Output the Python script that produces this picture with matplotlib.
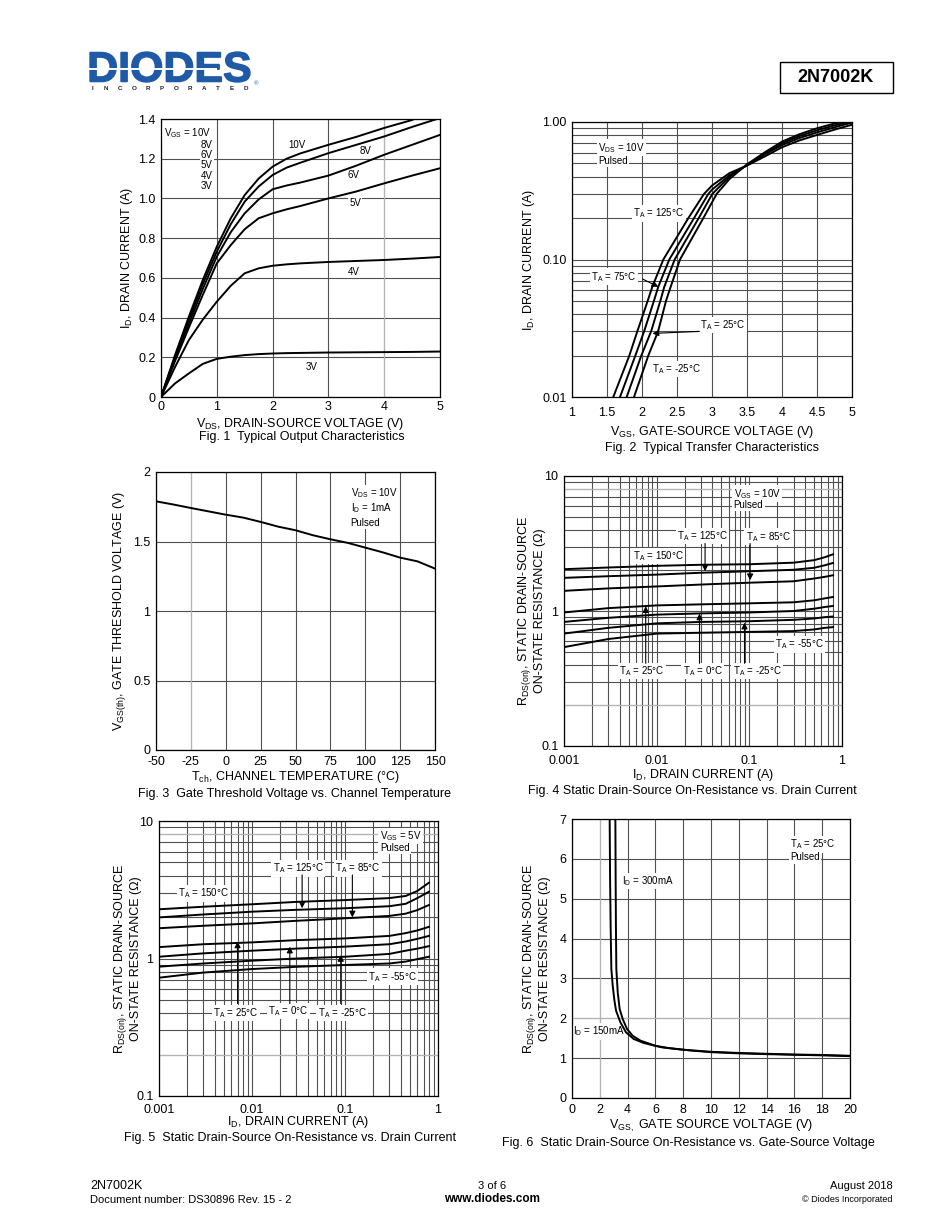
import numpy as np
import matplotlib
matplotlib.use("Agg")
import matplotlib.pyplot as plt
from matplotlib.ticker import LogLocator, NullFormatter, FixedLocator, FixedFormatter
from matplotlib.patches import Rectangle, PathPatch
from matplotlib.textpath import TextPath
from matplotlib.font_manager import FontProperties
from matplotlib.transforms import Affine2D

plt.rcParams['font.family'] = ['Liberation Sans', 'DejaVu Sans']
plt.rcParams['mathtext.fontset'] = 'custom'
plt.rcParams['mathtext.rm'] = 'Liberation Sans'
plt.rcParams['axes.unicode_minus'] = False

# ---- Fig 1: output characteristics ----
vds = [0, 0.25, 0.5, 0.75, 1.0, 1.25, 1.5, 1.75, 2.0, 2.25, 2.5, 3.0, 3.5, 4.0, 4.5, 5.0]
vds_10v = [0, 0.25, 0.5, 0.75, 1.0, 1.25, 1.5, 1.75, 2.0, 2.25, 2.5, 3.0, 3.5, 4.0, 4.5, 4.6]
id_10v = [0, 0.21, 0.405, 0.59, 0.757, 0.90, 1.017, 1.10, 1.16, 1.20, 1.227, 1.27, 1.31, 1.355, 1.395, 1.41]
id_8v = [0, 0.20, 0.39, 0.57, 0.732, 0.87, 0.984, 1.06, 1.118, 1.155, 1.18, 1.228, 1.27, 1.312, 1.36, 1.405]
id_6v = [0, 0.19, 0.37, 0.545, 0.707, 0.83, 0.925, 0.995, 1.046, 1.065, 1.08, 1.115, 1.165, 1.22, 1.27, 1.32]
id_5v = [0, 0.18, 0.35, 0.515, 0.673, 0.765, 0.845, 0.90, 0.925, 0.945, 0.962, 1.0, 1.035, 1.076, 1.115, 1.152]
id_4v = [0, 0.15, 0.287, 0.39, 0.48, 0.56, 0.623, 0.648, 0.661, 0.668, 0.673, 0.68, 0.685, 0.69, 0.697, 0.705]
id_3v = [0, 0.068, 0.119, 0.167, 0.192, 0.203, 0.211, 0.216, 0.219, 0.221, 0.222, 0.224, 0.225, 0.226, 0.227, 0.229]

# ---- Fig 2: transfer characteristics ----
vgs_125 = [1.59, 1.819, 1.933, 2.081, 2.148, 2.305, 2.662, 2.886, 3.0, 3.25, 3.5, 3.75, 4.0, 4.25, 4.5, 4.75, 5.0]
id_125 = [0.01, 0.02, 0.03, 0.05, 0.0634, 0.1, 0.2, 0.3, 0.345, 0.425, 0.482, 0.56, 0.655, 0.735, 0.805, 0.88, 0.955]
vgs_75 = [1.686, 1.905, 2.03, 2.17, 2.233, 2.39, 2.743, 2.948, 3.0, 3.25, 3.5, 3.75, 4.0, 4.25, 4.5, 4.75, 5.0]
id_75 = [0.01, 0.02, 0.03, 0.05, 0.0634, 0.1, 0.2, 0.3, 0.322, 0.41, 0.484, 0.58, 0.68, 0.765, 0.84, 0.915, 0.99]
vgs_25 = [1.781, 1.99, 2.13, 2.262, 2.319, 2.467, 2.81, 3.005, 3.25, 3.5, 3.75, 4.0, 4.25, 4.5, 4.75, 5.0]
id_25 = [0.01, 0.02, 0.03, 0.05, 0.0634, 0.1, 0.2, 0.3, 0.40, 0.488, 0.59, 0.70, 0.79, 0.87, 0.945, 1.01]
vgs_m25 = [1.886, 2.09, 2.23, 2.343, 2.41, 2.543, 2.876, 3.067, 3.25, 3.5, 3.75, 4.0, 4.25, 4.5, 4.75, 5.0]
id_m25 = [0.01, 0.02, 0.03, 0.05, 0.0634, 0.1, 0.2, 0.3, 0.385, 0.492, 0.60, 0.72, 0.815, 0.90, 0.975, 1.03]

# ---- Fig 3: gate threshold vs temperature ----
tch = [-50, -37.5, -25, -12.5, 0, 12.5, 25, 37.5, 50, 62.5, 75, 87.5, 100, 112.5, 125, 137.5, 150]
vth = [1.789, 1.766, 1.741, 1.717, 1.693, 1.672, 1.641, 1.607, 1.581, 1.545, 1.516, 1.49, 1.456, 1.422, 1.384, 1.357, 1.305]

# ---- Fig 4: RDS(on) vs ID, VGS = 10V ----
id_axis = [0.001, 0.003, 0.01, 0.03, 0.1, 0.3, 0.5, 0.65, 0.8]
r10_150 = [2.04, 2.10, 2.16, 2.20, 2.22, 2.28, 2.38, 2.50, 2.63]
r10_125 = [1.76, 1.81, 1.86, 1.92, 1.97, 2.02, 2.09, 2.18, 2.27]
r10_85 = [1.41, 1.47, 1.52, 1.57, 1.62, 1.66, 1.74, 1.79, 1.84]
r10_25 = [0.975, 1.05, 1.10, 1.12, 1.14, 1.16, 1.20, 1.24, 1.27]
r10_0 = [0.83, 0.89, 0.94, 0.96, 0.975, 1.00, 1.04, 1.07, 1.09]
r10_m25 = [0.68, 0.75, 0.81, 0.83, 0.84, 0.86, 0.88, 0.90, 0.91]
r10_m55 = [0.54, 0.62, 0.68, 0.69, 0.70, 0.71, 0.73, 0.75, 0.76]

# ---- Fig 5: RDS(on) vs ID, VGS = 5V ----
id_axis5 = [0.001, 0.003, 0.01, 0.03, 0.1, 0.3, 0.45, 0.6, 0.8]
r5_150 = [2.28, 2.38, 2.48, 2.58, 2.66, 2.75, 2.85, 3.1, 3.56]
r5_125 = [1.99, 2.09, 2.19, 2.26, 2.32, 2.40, 2.50, 2.75, 3.06]
r5_85 = [1.66, 1.73, 1.80, 1.88, 1.96, 2.04, 2.12, 2.25, 2.45]
r5_25 = [1.21, 1.27, 1.31, 1.36, 1.40, 1.46, 1.53, 1.60, 1.70]
r5_0 = [1.03, 1.09, 1.14, 1.18, 1.22, 1.27, 1.33, 1.39, 1.46]
r5_m25 = [0.872, 0.92, 0.964, 1.00, 1.03, 1.08, 1.14, 1.18, 1.23]
r5_m55 = [0.725, 0.79, 0.838, 0.87, 0.897, 0.92, 0.95, 0.99, 1.03]

# ---- Fig 6: RDS(on) vs VGS ----
vgs_150ma = [2.71, 2.74, 2.78, 2.83, 2.93, 3.05, 3.17, 3.48, 3.88, 4.44, 5.16, 6.47, 8.63, 10, 12, 14, 16, 18, 20]
r_150ma = [7.0, 5.5, 4.3, 3.24, 2.82, 2.45, 2.19, 1.90, 1.65, 1.48, 1.38, 1.27, 1.19, 1.15, 1.12, 1.10, 1.085, 1.07, 1.05]
vgs_300ma = [3.12, 3.14, 3.16, 3.19, 3.29, 3.43, 3.65, 3.96, 4.37, 4.92, 6.0, 7, 8, 10, 12, 14, 16, 18, 20]
r_300ma = [7.0, 5.5, 4.3, 3.24, 2.65, 2.23, 1.98, 1.73, 1.56, 1.44, 1.31, 1.25, 1.21, 1.16, 1.13, 1.11, 1.09, 1.08, 1.06]

W, H = 950, 1230
fig = plt.figure(figsize=(W / 100, H / 100), dpi=100)


def rect(x0, x1, y0, y1):
    return [x0 / W, 1 - y1 / H, (x1 - x0) / W, (y1 - y0) / H]


def ftext(x, y, s, **kw):
    fig.text(x / W, 1 - y / H, s, **kw)


GRID = '#505050'
LIGHT = '#b4b4b4'
LW = 1.4
tick_fs = 9
lab_fs = 9
ann_fs = 7
cap_fs = 9
# annotation boxes sit above the grid but below the curves
ann = dict(fontsize=ann_fs, va='center', zorder=1.5,
           bbox=dict(facecolor='white', edgecolor='none', pad=1.0))


def style(ax, xpad=3):
    for s in ax.spines.values():
        s.set_linewidth(0.9)
    ax.tick_params(which='both', length=0, labelsize=tick_fs, pad=4)
    ax.tick_params(axis='x', which='both', pad=xpad)
    ax.set_axisbelow(True)


def light_lines(ax, xs=(), ys=()):
    # a few grid lines are printed lighter in the datasheet
    for x in xs:
        ax.axvline(x, color=LIGHT, lw=0.8, zorder=0.6)
    for y in ys:
        ax.axhline(y, color=LIGHT, lw=0.8, zorder=0.6)


def arrow(ax, tail, tip):
    ax.annotate('', xy=tip, xytext=tail,
                arrowprops=dict(arrowstyle='-|>', color='black', lw=0.8, mutation_scale=9,
                                shrinkA=0, shrinkB=0))


# Fig 1
ax1 = fig.add_axes(rect(161, 440, 119, 397))
style(ax1)
for xs, ys in [(vds_10v, id_10v), (vds, id_8v), (vds, id_6v), (vds, id_5v), (vds, id_4v), (vds, id_3v)]:
    ax1.plot(xs, ys, color='black', lw=LW)
ax1.set_xlim(0, 5)
ax1.set_ylim(0, 1.4)
ax1.set_xticks([0, 1, 2, 3, 4, 5])
ax1.set_yticks([0, 0.2, 0.4, 0.6, 0.8, 1.0, 1.2, 1.4])
ax1.set_yticklabels(['0', '0.2', '0.4', '0.6', '0.8', '1.0', '1.2', '1.4'])
ax1.grid(True, color=GRID, lw=0.8)
light_lines(ax1, xs=[4])
ax1.set_xlabel('V$_\\mathregular{DS}$, DRAIN-SOURCE VOLTAGE (V)', fontsize=lab_fs, labelpad=2)
ax1.set_ylabel('I$_\\mathregular{D}$, DRAIN CURRENT (A)', fontsize=lab_fs, labelpad=2)
ax1.text(0.05, 1.33, 'V$_\\mathregular{GS}$ = 10V', **ann)
for i, t in enumerate(['8V', '6V', '5V', '4V', '3V']):
    ax1.text(0.93, 1.27 - i * 0.052, t, ha='right', **ann)
for t, x, y in [('10V', 2.43, 1.27), ('8V', 3.66, 1.24), ('6V', 3.45, 1.12), ('5V', 3.48, 0.975),
                ('4V', 3.45, 0.63), ('3V', 2.7, 0.152)]:
    ax1.text(x, y, t, ha='center', **ann)
ftext(302, 437, 'Fig. 1  Typical Output Characteristics', fontsize=cap_fs, ha='center', va='center')

# Fig 2
ax2 = fig.add_axes(rect(572, 852, 122, 397))
style(ax2, xpad=7)
ax2.set_yscale('log')
for xs, ys in [(vgs_125, id_125), (vgs_75, id_75), (vgs_25, id_25), (vgs_m25, id_m25)]:
    ax2.plot(xs, ys, color='black', lw=LW)
ax2.set_xlim(1, 5)
ax2.set_ylim(0.01, 1.0)
ax2.set_xticks([1, 1.5, 2, 2.5, 3, 3.5, 4, 4.5, 5])
ax2.set_xticklabels(['1', '1.5', '2', '2.5', '3', '3.5', '4', '4.5', '5'])
ax2.yaxis.set_major_locator(FixedLocator([0.01, 0.1, 1.0]))
ax2.yaxis.set_major_formatter(FixedFormatter(['0.01', '0.10', '1.00']))
ax2.yaxis.set_minor_locator(LogLocator(subs=range(2, 10)))
ax2.yaxis.set_minor_formatter(NullFormatter())
ax2.grid(True, which='both', color=GRID, lw=0.8)
ax2.set_xlabel('V$_\\mathregular{GS}$, GATE-SOURCE VOLTAGE (V)', fontsize=lab_fs, labelpad=4)
ax2.set_ylabel('I$_\\mathregular{D}$, DRAIN CURRENT (A)', fontsize=lab_fs, labelpad=4)
ax2.text(1.37, 0.65, 'V$_\\mathregular{DS}$ = 10V', **ann)
ax2.text(1.37, 0.52, 'Pulsed', **ann)
ax2.text(2.24, 0.216, 'T$_\\mathregular{A}$ = 125°C', ha='center', **ann)
ax2.text(1.6, 0.075, 'T$_\\mathregular{A}$ = 75°C', ha='center', **ann)
ax2.text(3.16, 0.0334, 'T$_\\mathregular{A}$ = 25°C', ha='center', **ann)
ax2.text(2.49, 0.016, 'T$_\\mathregular{A}$ = -25°C', ha='center', **ann)
arrow(ax2, (2.01, 0.072), (2.233, 0.0634))
arrow(ax2, (2.82, 0.030), (2.15, 0.029))
ftext(712, 448, 'Fig. 2  Typical Transfer Characteristics', fontsize=cap_fs, ha='center', va='center')

# Fig 3
ax3 = fig.add_axes(rect(156, 435, 472, 750))
style(ax3, xpad=4)
ax3.plot(tch, vth, color='black', lw=LW)
ax3.set_xlim(-50, 150)
ax3.set_ylim(0, 2)
ax3.set_xticks(range(-50, 151, 25))
ax3.set_yticks([0, 0.5, 1, 1.5, 2])
ax3.set_yticklabels(['0', '0.5', '1', '1.5', '2'])
ax3.grid(True, color=GRID, lw=0.8)
light_lines(ax3, xs=[-25])
ax3.set_xlabel('T$_\\mathregular{ch}$, CHANNEL TEMPERATURE (°C)', fontsize=lab_fs, labelpad=1)
ax3.set_ylabel('V$_\\mathregular{GS(th)}$, GATE THRESHOLD VOLTAGE (V)', fontsize=lab_fs, labelpad=4)
for t, y in [('V$_\\mathregular{DS}$ = 10V', 1.849), ('I$_\\mathregular{D}$ = 1mA', 1.737), ('Pulsed', 1.634)]:
    ax3.text(89.6, y, t, **ann)
ftext(294, 794, 'Fig. 3  Gate Threshold Voltage vs. Channel Temperature', fontsize=cap_fs, ha='center', va='center')

RDS_LABEL = 'R$_\\mathregular{DS(on)}$, STATIC DRAIN-SOURCE\nON-STATE RESISTANCE (Ω)'


def log_axes(ax, xlabelpad, ylab_x):
    ax.set_xscale('log')
    ax.set_yscale('log')
    ax.set_xlim(0.001, 1)
    ax.set_ylim(0.1, 10)
    ax.xaxis.set_major_locator(FixedLocator([0.001, 0.01, 0.1, 1]))
    ax.xaxis.set_major_formatter(FixedFormatter(['0.001', '0.01', '0.1', '1']))
    ax.yaxis.set_major_locator(FixedLocator([0.1, 1, 10]))
    ax.yaxis.set_major_formatter(FixedFormatter(['0.1', '1', '10']))
    for a in (ax.xaxis, ax.yaxis):
        a.set_minor_locator(LogLocator(subs=range(2, 10)))
        a.set_minor_formatter(NullFormatter())
    ax.grid(True, which='both', color=GRID, lw=0.8)
    light_lines(ax, ys=[0.2, 8])
    ax.set_xlabel('I$_\\mathregular{D}$, DRAIN CURRENT (A)', fontsize=lab_fs, labelpad=xlabelpad)
    ax.set_ylabel(RDS_LABEL, fontsize=lab_fs, linespacing=1.15)
    ax.yaxis.set_label_coords(ylab_x, 0.5)


# Fig 4
ax4 = fig.add_axes(rect(564, 842, 476, 746))
style(ax4, xpad=6.5)
log_axes(ax4, 0, -0.065)
for r in [r10_150, r10_125, r10_85, r10_25, r10_0, r10_m25, r10_m55]:
    ax4.plot(id_axis, r, color='black', lw=LW)
ax4.text(0.0675, 7.4, 'V$_\\mathregular{GS}$ = 10V', **ann)
ax4.text(0.0675, 6.1, 'Pulsed', **ann)
ax4.text(0.0312, 3.58, 'T$_\\mathregular{A}$ = 125°C', ha='center', **ann)
ax4.text(0.161, 3.55, 'T$_\\mathregular{A}$ = 85°C', ha='center', **ann)
ax4.text(0.01045, 2.56, 'T$_\\mathregular{A}$ = 150°C', ha='center', **ann)
ax4.text(0.0069, 0.36, 'T$_\\mathregular{A}$ = 25°C', ha='center', **ann)
ax4.text(0.0315, 0.36, 'T$_\\mathregular{A}$ = 0°C', ha='center', **ann)
ax4.text(0.1206, 0.36, 'T$_\\mathregular{A}$ = -25°C', ha='center', **ann)
ax4.text(0.346, 0.565, 'T$_\\mathregular{A}$ = -55°C', ha='center', **ann)
arrow(ax4, (0.0333, 3.16), (0.0333, 1.97))
arrow(ax4, (0.102, 3.16), (0.102, 1.69))
arrow(ax4, (0.00762, 0.41), (0.00762, 1.086))
arrow(ax4, (0.029, 0.41), (0.029, 0.958))
arrow(ax4, (0.0887, 0.41), (0.0887, 0.82))
ftext(692, 791, 'Fig. 4 Static Drain-Source On-Resistance vs. Drain Current', fontsize=cap_fs, ha='center', va='center')

# Fig 5
ax5 = fig.add_axes(rect(159, 438, 821, 1096))
style(ax5, xpad=5.5)
log_axes(ax5, -1, -0.061)
for r in [r5_150, r5_125, r5_85, r5_25, r5_0, r5_m25, r5_m55]:
    ax5.plot(id_axis5, r, color='black', lw=LW)
ax5.text(0.237, 7.8, 'V$_\\mathregular{GS}$ = 5V', **ann)
ax5.text(0.237, 6.4, 'Pulsed', **ann)
ax5.text(0.0314, 4.53, 'T$_\\mathregular{A}$ = 125°C', ha='center', **ann)
ax5.text(0.138, 4.53, 'T$_\\mathregular{A}$ = 85°C', ha='center', **ann)
ax5.text(0.003, 2.98, 'T$_\\mathregular{A}$ = 150°C', ha='center', **ann)
ax5.text(0.0067, 0.40, 'T$_\\mathregular{A}$ = 25°C', ha='center', **ann)
ax5.text(0.0245, 0.415, 'T$_\\mathregular{A}$ = 0°C', ha='center', **ann)
ax5.text(0.093, 0.40, 'T$_\\mathregular{A}$ = -25°C', ha='center', **ann)
ax5.text(0.324, 0.738, 'T$_\\mathregular{A}$ = -55°C', ha='center', **ann)
arrow(ax5, (0.0346, 4.05), (0.0346, 2.32))
arrow(ax5, (0.120, 4.05), (0.120, 1.99))
arrow(ax5, (0.0070, 0.47), (0.0070, 1.33))
arrow(ax5, (0.0255, 0.47), (0.0255, 1.22))
arrow(ax5, (0.090, 0.47), (0.090, 1.06))
ftext(290, 1138, 'Fig. 5  Static Drain-Source On-Resistance vs. Drain Current', fontsize=cap_fs, ha='center', va='center')

# Fig 6
ax6 = fig.add_axes(rect(572, 850, 819, 1098))
style(ax6, xpad=4.5)
ax6.plot(vgs_150ma, r_150ma, color='black', lw=LW)
ax6.plot(vgs_300ma, r_300ma, color='black', lw=LW)
ax6.set_xlim(0, 20)
ax6.set_ylim(0, 7)
ax6.set_xticks(range(0, 21, 2))
ax6.set_yticks(range(0, 8))
ax6.grid(True, color=GRID, lw=0.8)
light_lines(ax6, xs=[2], ys=[2])
ax6.set_xlabel('V$_\\mathregular{GS,}$ GATE SOURCE VOLTAGE (V)', fontsize=lab_fs, labelpad=1)
ax6.set_ylabel(RDS_LABEL, fontsize=lab_fs, linespacing=1.15)
ax6.yaxis.set_label_coords(-0.076, 0.5)
ax6.text(15.69, 6.36, 'T$_\\mathregular{A}$ = 25°C', **ann)
ax6.text(15.69, 6.04, 'Pulsed', **ann)
ax6.text(3.59, 5.44, 'I$_\\mathregular{D}$ = 300mA', **ann)
ax6.text(0.08, 1.67, 'I$_\\mathregular{D}$ = 150mA', **ann)
ftext(688, 1143, 'Fig. 6  Static Drain-Source On-Resistance vs. Gate-Source Voltage', fontsize=cap_fs, ha='center', va='center')

# header logo
BLUE = '#1f5aa6'
tp = TextPath((0, 0), 'DIODES', size=1, prop=FontProperties(family='Liberation Sans', weight='bold'))
bb = tp.get_extents()
logo_tr = (Affine2D().translate(-bb.x0, -bb.y0).scale(160 / bb.width, 30 / bb.height)
           .translate(90, H - 82).scale(1 / W, 1 / H) + fig.transFigure)
fig.add_artist(PathPatch(tp, transform=logo_tr, facecolor=BLUE, edgecolor=BLUE, lw=1.0))
fig.add_artist(plt.Line2D([88 / W, 216 / W], [1 - 69 / H, 1 - 69 / H], color='white', lw=1.4))
ftext(254, 84, '®', fontsize=4.5, color=BLUE, ha='left', va='center')
for i, ch in enumerate('INCORPORATED'):
    ftext(92 + i * 14.0, 89, ch, fontsize=4.5, fontweight='bold', color='#222222', ha='center', va='center')
fig.add_artist(Rectangle((780 / W, 1 - 93 / H), 113 / W, 31 / H, transform=fig.transFigure,
                         fill=False, edgecolor='black', lw=1.0))
ftext(836, 78, '2N7002K', fontsize=13, fontweight='bold', ha='center', va='center')

# footer
ftext(90, 1186, '2N7002K', fontsize=9, ha='left', va='center')
ftext(90, 1200, 'Document number: DS30896 Rev. 15 - 2', fontsize=8, ha='left', va='center')
ftext(492, 1186, '3 of 6', fontsize=8, ha='center', va='center')
ftext(492, 1199, 'www.diodes.com', fontsize=8.5, fontweight='bold', ha='center', va='center')
ftext(893, 1186, 'August 2018', fontsize=8, ha='right', va='center')
ftext(893, 1199, '© Diodes Incorporated', fontsize=6.5, ha='right', va='center')

fig.savefig('out.png', dpi=100, facecolor='white')
